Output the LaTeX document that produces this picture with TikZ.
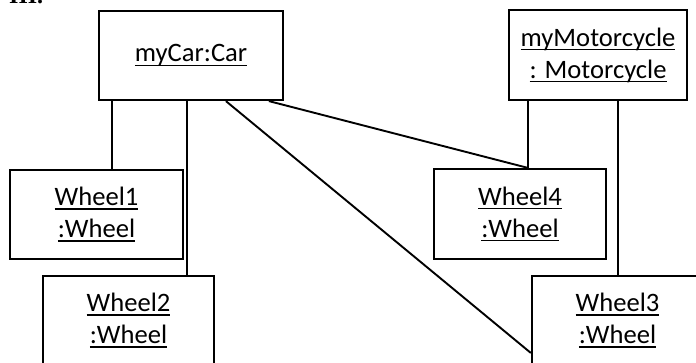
\documentclass[tikz,border=0pt]{standalone}
\usepackage{fontspec}
\setmainfont{Carlito}
\newfontfamily\headfont{Liberation Serif}
% underline every line at a fixed depth below the baseline
\newcommand\ulline[1]{\setbox0\hbox{#1}\rlap{\rule[-4.2pt]{\wd0}{1.6pt}}\box0}
\begin{document}
\begin{tikzpicture}[x=1pt,y=-1pt,
  obj/.style={draw, rectangle, line width=2.2pt, inner sep=0pt, align=center,
    font=\fontsize{26.6}{32}\selectfont},
  link/.style={line width=1.9pt}]
\useasboundingbox (0,0) rectangle (696,362);
\clip (0,0) rectangle (696,362);
\fill[white] (0,0) rectangle (696,362);

% heading, cut off at the top edge
\node[anchor=base west, inner sep=0pt, font=\headfont\bfseries\fontsize{24}{28}\selectfont] (head) at (9,3) {III.};

% objects
\node[obj, minimum width=184, minimum height=89] (car) at (191,55.5) {\ulline{myCar:Car}};
\node[obj, minimum width=178, minimum height=90] (moto) at (598,55) {\ulline{myMotorcycle}\\\ulline{: Motorcycle}};
\node[obj, minimum width=173, minimum height=89] (w1) at (96.5,214.5) {\ulline{Wheel1}\\\ulline{:Wheel}};
\node[obj, minimum width=172, minimum height=90] (w4) at (520,214) {\ulline{Wheel4}\\\ulline{:Wheel}};
\node[obj, minimum width=171, minimum height=89] (w2) at (128.5,320.5) {\ulline{Wheel2}\\\ulline{:Wheel}};
\node[obj, minimum width=171, minimum height=89] (w3) at (617.5,320.5) {\ulline{Wheel3}\\\ulline{:Wheel}};

% links
\draw[link] ([xshift=14pt]car.south west) -- ([xshift=14pt]car.south west |- w1.north);
\draw[link] ([xshift=89pt]car.south west) -- ([xshift=89pt]car.south west |- w2.north);
\draw[link] ([xshift=128pt]car.south west) -- ([yshift=-32.5pt]w3.west);
\draw[link] ([xshift=171pt]car.south west) -- ([xshift=95pt]w4.north west);
\draw[link] ([xshift=95pt]w4.north west) -- ([xshift=95pt]w4.north west |- moto.south);
\draw[link] ([xshift=0.8pt]w3.north) -- ([xshift=0.8pt]w3.north |- moto.south);
\end{tikzpicture}
\end{document}
